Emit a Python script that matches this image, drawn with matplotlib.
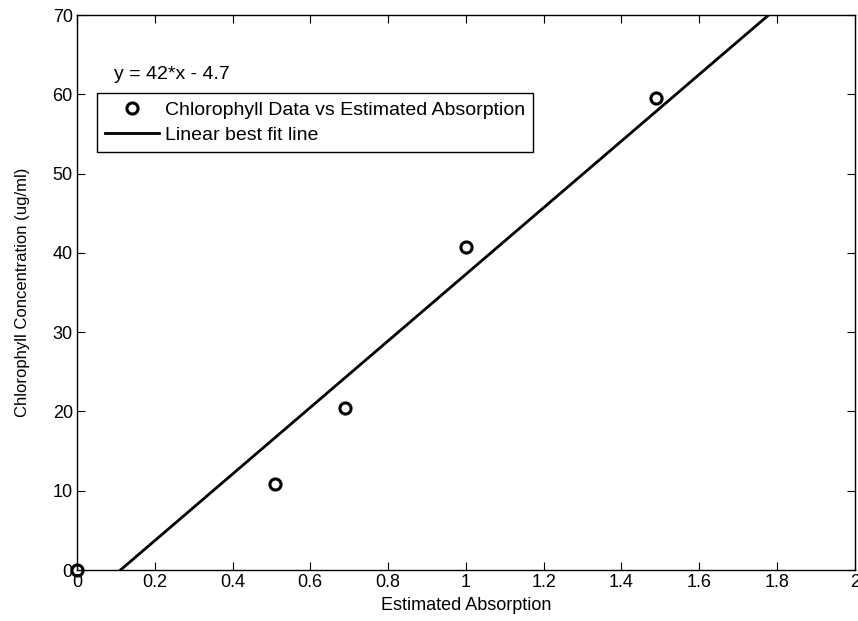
import matplotlib
matplotlib.use("Agg")
import matplotlib.pyplot as plt
import numpy as np

plt.rcParams['font.family'] = ['Liberation Sans', 'DejaVu Sans']

absorption = [0.0, 0.51, 0.69, 1.0, 1.49]
chlorophyll = [0.0, 10.8, 20.4, 40.8, 59.5]
fit_slope = 42.0
fit_intercept = -4.7
x_ticks = [0, 0.2, 0.4, 0.6, 0.8, 1, 1.2, 1.4, 1.6, 1.8, 2]
y_ticks = [0, 10, 20, 30, 40, 50, 60, 70]

fig = plt.figure(figsize=(8.58, 6.21), dpi=100)
ax = fig.add_axes([0.0897, 0.0821, 0.9065, 0.8937])

ax.plot(absorption, chlorophyll, 'o', mfc='none', mec='black', mew=2.2, ms=8,
        label='Chlorophyll Data vs Estimated Absorption', clip_on=False, zorder=3)
xf = np.array([0.0, 2.0])
ax.plot(xf, fit_slope * xf + fit_intercept, '-', color='black', lw=2,
        label='Linear best fit line')

ax.set_xlim(0, 2)
ax.set_ylim(0, 70)
ax.set_xticks(x_ticks)
ax.set_xticklabels([('%g' % t) for t in x_ticks])
ax.set_yticks(y_ticks)
ax.tick_params(direction='in', top=True, right=True, labelsize=13, length=6, width=0.8, pad=3)
for s in ax.spines.values():
    s.set_linewidth(1.0)

ax.set_xlabel('Estimated Absorption', fontsize=13, labelpad=4)
ax.set_ylabel('Chlorophyll Concentration (ug/ml)', fontsize=12, labelpad=16)

ax.text(0.047, 0.885, 'y = 42*x - 4.7', transform=ax.transAxes, fontsize=14)

leg = ax.legend(loc='upper left', bbox_to_anchor=(0.0257, 0.859), fontsize=14,
                frameon=True, fancybox=False, edgecolor='black', framealpha=1,
                borderpad=0.4, handlelength=2.8, handletextpad=0.3, labelspacing=0.4,
                borderaxespad=0)
leg.get_frame().set_linewidth(1.0)

fig.savefig('out.png', dpi=100)
